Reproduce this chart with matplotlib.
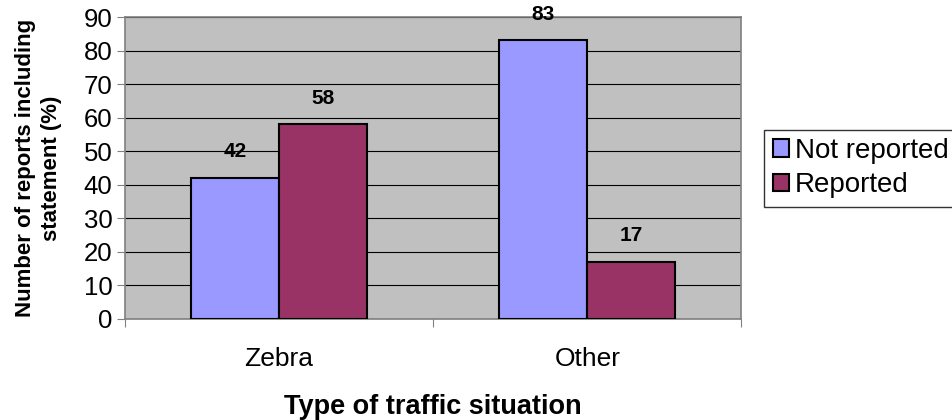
import matplotlib
matplotlib.use("Agg")
import matplotlib.pyplot as plt
import numpy as np

plt.rcParams["font.family"] = ["Liberation Sans", "DejaVu Sans"]

categories = ["Zebra", "Other"]
series_names = ["Not reported", "Reported"]
not_reported = [42, 83]
reported = [58, 17]

COLORS = ["#9999FF", "#993366"]

fig = plt.figure(figsize=(9.53, 4.2), dpi=100)
ax = fig.add_axes([0.131, 0.2405, 0.647, 0.719])
ax.set_facecolor("#C0C0C0")

x = np.arange(len(categories))
w = 1 / 3.5
b1 = ax.bar(x - w / 2, not_reported, w, color=COLORS[0], edgecolor="black",
            linewidth=1.5, label=series_names[0], zorder=3)
b2 = ax.bar(x + w / 2, reported, w, color=COLORS[1], edgecolor="black",
            linewidth=1.5, label=series_names[1], zorder=3)

for bars in (b1, b2):
    for bar in bars:
        h = bar.get_height()
        ax.text(bar.get_x() + bar.get_width() / 2, h + 5, f"{h:.0f}",
                ha="center", va="bottom", fontsize=15, fontweight="bold")

ax.set_xlim(-0.5, len(categories) - 0.5)
ax.set_ylim(0, 90)
ax.set_yticks(np.arange(0, 91, 10))
ax.yaxis.grid(True, color="black", linewidth=0.8, zorder=0)
ax.set_axisbelow(True)

# category boundaries get the tick marks, labels sit in between
ax.set_xticks(np.arange(-0.5, len(categories), 1.0))
ax.set_xticklabels([])
ax.set_xticks(x, minor=True)
ax.set_xticklabels(categories, minor=True)
ax.tick_params(axis="x", which="minor", length=0, pad=20, labelsize=19)
ax.tick_params(axis="x", which="major", length=6, direction="out", color="#808080")
ax.tick_params(axis="y", length=6, direction="out", labelsize=18.5, pad=3, color="#808080")

for s in ax.spines.values():
    s.set_color("#808080")
    s.set_linewidth(1.2)

ax.set_xlabel("Type of traffic situation", fontsize=19.5, fontweight="bold", labelpad=17)
ax.set_ylabel("Number of reports including\nstatement (%)", fontsize=16,
              fontweight="bold", linespacing=1.3)
ax.yaxis.set_label_coords(-0.102, 0.5)

leg = ax.legend(loc="center left", bbox_to_anchor=(1.037, 0.5), fontsize=20,
                frameon=True, fancybox=False, edgecolor="black",
                handlelength=0.6, handleheight=0.6, handletextpad=0.2,
                borderpad=0.3, labelspacing=0.3, borderaxespad=0)
leg.get_frame().set_linewidth(1.0)

fig.savefig("out.png", dpi=100, facecolor="white")
